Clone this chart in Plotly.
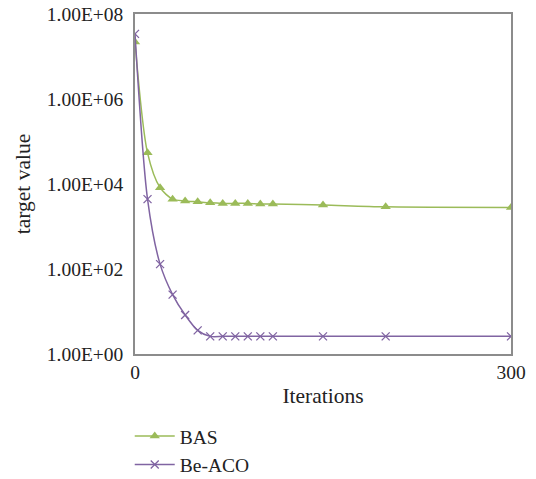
import plotly.graph_objects as go

iterations = [0, 10, 20, 30, 40, 50, 60, 70, 80, 90, 100, 110, 150, 200, 300]
bas = [2.2e7, 5.4e4, 8.2e3, 4.4e3, 4.0e3, 3.8e3, 3.6e3, 3.5e3, 3.5e3, 3.5e3, 3.4e3, 3.4e3, 3.2e3, 2.9e3, 2.8e3]
be_aco = [3.4e7, 4.4e3, 130, 25, 8.3, 3.6, 2.6, 2.6, 2.6, 2.6, 2.6, 2.6, 2.6, 2.6, 2.6]

y_tickvals = [1, 1e2, 1e4, 1e6, 1e8]
y_ticktext = ["1.00E+00", "1.00E+02", "1.00E+04", "1.00E+06", "1.00E+08"]
x_tickvals = [0, 300]

FONT = "Liberation Serif"
GREEN = "#9BBB59"
PURPLE = "#8064A2"
AXIS = "#8c8c8c"
FS = 19.5
TFS = 21.5

fig = go.Figure()
fig.add_trace(go.Scatter(
    x=iterations, y=bas, name="BAS", mode="lines+markers",
    line=dict(color=GREEN, width=1.5, shape="spline", smoothing=0.8),
    marker=dict(symbol="triangle-up", size=9, color=GREEN),
))
fig.add_trace(go.Scatter(
    x=iterations, y=be_aco, name="Be-ACO", mode="lines+markers",
    line=dict(color=PURPLE, width=1.5, shape="spline", smoothing=0.8),
    marker=dict(symbol="x-thin-open", size=8, color=PURPLE, line=dict(color=PURPLE, width=1.3)),
))

fig.update_layout(
    width=536, height=479,
    margin=dict(l=135, r=25, t=14, b=125, autoexpand=False),
    paper_bgcolor="white", plot_bgcolor="white",
    font=dict(family=FONT, size=FS, color="#222222"),
    showlegend=True,
    legend=dict(x=-0.014, y=-0.185, xanchor="left", yanchor="top",
                orientation="v", font=dict(family=FONT, size=FS),
                bgcolor="rgba(0,0,0,0)", tracegroupgap=0, itemwidth=40),
    xaxis=dict(
        range=[0, 300], tickvals=x_tickvals, ticktext=["0", "300"],
        showline=True, linecolor=AXIS, linewidth=1.5, mirror=True,
        showgrid=False, zeroline=False, ticks="", automargin=False,
        ticklabelstandoff=0, ticklabeloverflow="allow",
        title=dict(text="Iterations", font=dict(family=FONT, size=TFS), standoff=6),
    ),
    yaxis=dict(
        type="log", range=[0, 8], tickvals=y_tickvals, ticktext=y_ticktext,
        showline=True, linecolor=AXIS, linewidth=1.5, mirror=True,
        showgrid=False, zeroline=False, ticks="", automargin=False,
        ticklabelstandoff=6, ticklabeloverflow="allow",
        title=dict(text="target value", font=dict(family=FONT, size=TFS), standoff=10),
    ),
)

# remove the browser's default 8px body margin so the figure fills the window
fig.write_html("out.html", config={"displayModeBar": False},
               post_script="document.body.style.margin='0';")
